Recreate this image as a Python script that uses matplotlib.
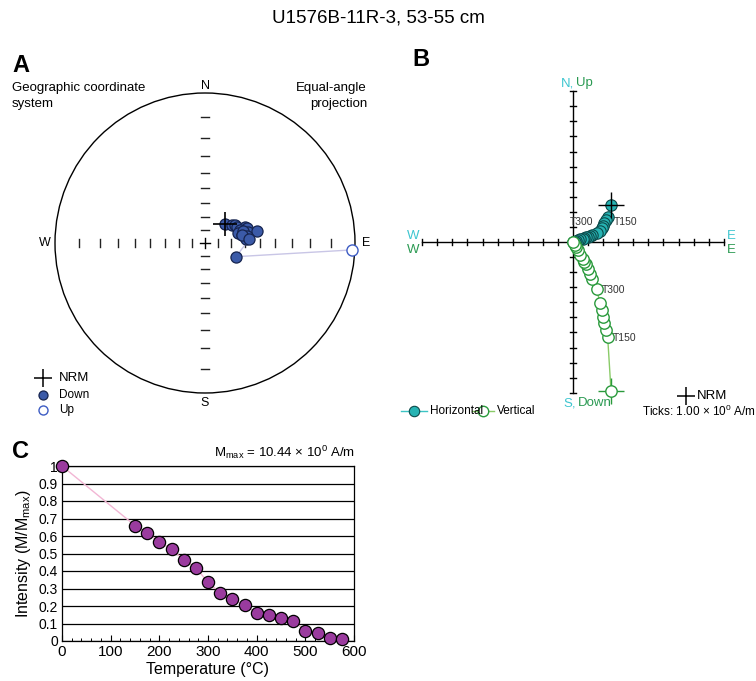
import numpy as np
import matplotlib
matplotlib.use("Agg")
import matplotlib.pyplot as plt
from matplotlib.patches import Circle

plt.rcParams['font.family'] = ['Liberation Sans', 'DejaVu Sans']
plt.rcParams['mathtext.fontset'] = 'custom'
plt.rcParams['mathtext.rm'] = 'Liberation Sans'
plt.rcParams['mathtext.it'] = 'Liberation Sans:italic'
plt.rcParams['mathtext.bf'] = 'Liberation Sans:bold'

# ---------------- data ----------------
title = "U1576B-11R-3, 53-55 cm"
temps = [0, 150, 175, 200, 225, 250, 275, 300, 325, 350, 375, 400, 425, 450, 475, 500, 525, 550, 575]
# Panel A: stereonet directions (declination, inclination in degrees)
dec = [46.5, 56.0, 59.0, 62.8, 67.8, 70.6, 69.6, 73.6, 75.4, 76.9, 73.8, 77.7, 72.0, 80.0, 84.8, 78.0, 85.0, 113.8, 92.7]
inc = [69.1, 65.8, 63.7, 63.3, 57.9, 57.2, 62.1, 60.2, 56.8, 51.0, 64.0, 61.9, 60.0, 58.0, 59.4, 62.0, 57.0, 64.5, -1.2]
# Panel B: Zijderveld components (A/m)
east = [2.52, 2.30, 2.17, 2.08, 1.97, 1.90, 1.79, 1.57, 1.24, 1.13, 0.99, 0.84, 0.76, 0.63, 0.46, 0.31, 0.23, 0.13, 0.03]
north = [2.45, 1.66, 1.46, 1.26, 1.06, 0.90, 0.73, 0.60, 0.46, 0.43, 0.36, 0.30, 0.27, 0.23, 0.17, 0.10, 0.07, 0.03, 0.00]
down = [9.86, 6.33, 5.84, 5.37, 4.97, 4.48, 4.05, 3.14, 2.45, 2.12, 1.79, 1.49, 1.33, 1.13, 0.86, 0.50, 0.36, 0.17, -0.01]
zij_labels = {1: "T150", 7: "T300"}
# Panel C: normalized intensity
intensity = [1.0, 0.66, 0.62, 0.565, 0.525, 0.465, 0.42, 0.335, 0.275, 0.24, 0.205, 0.16, 0.15, 0.13, 0.115, 0.06, 0.045, 0.015, 0.01]
mmax_text = r"$\mathregular{M_{max}}$ = 10.44 × 10$^{\mathregular{0}}$ A/m"
ticks_text = r"Ticks: 1.00 × 10$^{\mathregular{0}}$ A/m"

# ---------------- figure ----------------
W, H = 756, 681
fig = plt.figure(figsize=(W / 100, H / 100), dpi=100)


def px_axes(x0, y0, x1, y1):
    return fig.add_axes([x0 / W, 1 - y1 / H, (x1 - x0) / W, (y1 - y0) / H])


def ftext(x, y, s, **kw):
    kw.setdefault('va', 'center')
    return fig.text(x / W, 1 - y / H, s, **kw)


ftext(378, 18, title, ha='center', fontsize=13.5)

# ---------------- Panel A ----------------
cx, cy, R = 205, 243, 150
a0x, a0y, a1x, a1y = 0, 60, 410, 430
axA = px_axes(a0x, a0y, a1x, a1y)
axA.set_xlim((a0x - cx) / R, (a1x - cx) / R)
axA.set_ylim((cy - a1y) / R, (cy - a0y) / R)
axA.axis('off')
axA.add_patch(Circle((0, 0), 1.0, fill=False, ec='black', lw=1.0))
tick_r = [np.tan(np.radians((90 - i) / 2)) for i in range(10, 90, 10)]
hl = 0.024
for r in tick_r:
    for s in (1, -1):
        axA.plot([-hl, hl], [s * r, s * r], color='#222222', lw=1.0)
        axA.plot([s * r, s * r], [-hl, hl], color='#222222', lw=1.0)
axA.plot([-0.032, 0.032], [0, 0], color='black', lw=1.0)
axA.plot([0, 0], [-0.032, 0.032], color='black', lw=1.0)

d = np.radians(np.array(dec))
ia = np.abs(np.array(inc))
rr = np.tan(np.radians((90 - ia) / 2))
sx = rr * np.sin(d)
sy = rr * np.cos(d)
axA.plot(sx, sy, color='#c9c6e6', lw=1.0, zorder=2)
for k in range(len(dec)):
    if inc[k] >= 0:
        axA.plot(sx[k], sy[k], 'o', ms=8, mfc='#3b5aa8', mec='#16244f', mew=0.9, zorder=3)
    else:
        axA.plot(sx[k], sy[k], 'o', ms=8, mfc='white', mec='#3d5cc4', mew=1.0, zorder=3)
axA.plot(sx[0], sy[0], '+', ms=17, color='black', mew=1.2, zorder=4)

ftext(12, 65, "A", fontsize=17, fontweight='bold')
ftext(12, 88, "Geographic coordinate", fontsize=9.5)
ftext(12, 104, "system", fontsize=9.5)
ftext(367, 88, "Equal-angle", fontsize=9.5, ha='right')
ftext(367, 104, "projection", fontsize=9.5, ha='right')
ftext(205, 86, "N", fontsize=9, ha='center')
ftext(205, 403, "S", fontsize=9, ha='center')
ftext(45, 243, "W", fontsize=9, ha='center')
ftext(366, 243, "E", fontsize=9, ha='center')

# legend A
legA = px_axes(0, 360, 120, 420)
legA.set_xlim(0, 120)
legA.set_ylim(420, 360)
legA.axis('off')
legA.plot(43, 378, '+', ms=13, color='black', mew=1.1)
legA.plot(43, 395, 'o', ms=6.5, mfc='#3b5aa8', mec='#16244f', mew=0.9)
legA.plot(43, 410, 'o', ms=6.5, mfc='white', mec='#3d5cc4', mew=1.0)
ftext(59, 378, "NRM", fontsize=9.5)
ftext(59, 395, "Down", fontsize=8.5)
ftext(59, 410, "Up", fontsize=8.5)

# ---------------- Panel B ----------------
ox, oy, S = 573, 242, 15.08
b0x, b0y, b1x, b1y = 400, 70, 756, 425
axB = px_axes(b0x, b0y, b1x, b1y)
axB.set_xlim((b0x - ox) / S, (b1x - ox) / S)
axB.set_ylim((oy - b1y) / S, (oy - b0y) / S)
axB.axis('off')
axB.plot([-10, 10], [0, 0], color='black', lw=1.0, zorder=1)
axB.plot([0, 0], [-10, 10], color='black', lw=1.0, zorder=1)
for t in range(-10, 11):
    if t == 0:
        continue
    axB.plot([t, t], [-0.17, 0.17], color='black', lw=1.0, zorder=1)
    axB.plot([-0.23, 0.23], [t, t], color='black', lw=1.0, zorder=1)

cyan_txt = '#3ec6d0'
green_txt = '#2a9a52'
h_fill, h_edge, h_line = '#26b3b3', '#0c4a4a', '#3cc4c4'
v_edge, v_line = '#2a9a3c', '#8acb68'

E = np.array(east)
N = np.array(north)
D = np.array(down)
axB.plot(E, N, color=h_line, lw=1.0, zorder=2)
axB.plot(E, N, 'o', ms=8.2, mfc=h_fill, mec=h_edge, mew=0.8, zorder=3)
axB.plot(E, -D, color=v_line, lw=1.0, zorder=2)
axB.plot(E, -D, 'o', ms=8.2, mfc='white', mec=v_edge, mew=1.0, zorder=3)
axB.plot(E[0], N[0], '+', ms=19, color='black', mew=1.0, zorder=4)
axB.plot(E[0], -D[0], '+', ms=19, color=v_edge, mew=1.0, zorder=2)

for k, lab in zij_labels.items():
    if k == 7:
        axB.annotate(lab, (E[k], N[k]), xytext=(-3, 11), textcoords='offset pixels',
                     ha='right', va='center', fontsize=7.5, color='#333333', zorder=5)
    else:
        axB.annotate(lab, (E[k], N[k]), xytext=(6, -5), textcoords='offset pixels',
                     ha='left', va='center', fontsize=7.5, color='#333333', zorder=5)
    axB.annotate(lab, (E[k], -D[k]), xytext=(5, -1), textcoords='offset pixels',
                 ha='left', va='center', fontsize=7.5, color='#333333', zorder=5)

ftext(12 + 400, 60, "B", fontsize=17, fontweight='bold')
ftext(574, 83, "N,", fontsize=9.5, ha='right', color=cyan_txt)
ftext(576, 83, "Up", fontsize=9.5, ha='left', color=green_txt)
ftext(576, 403, "S,", fontsize=9.5, ha='right', color=cyan_txt)
ftext(578, 403, "Down", fontsize=9.5, ha='left', color=green_txt)
ftext(413, 236, "W", fontsize=9.5, ha='center', color=cyan_txt)
ftext(413, 250, "W", fontsize=9.5, ha='center', color=green_txt)
ftext(731, 236, "E", fontsize=9.5, ha='center', color=cyan_txt)
ftext(731, 250, "E", fontsize=9.5, ha='center', color=green_txt)

# legend B
legB = px_axes(395, 385, 756, 420)
legB.set_xlim(395, 756)
legB.set_ylim(420, 385)
legB.axis('off')
legB.plot([401, 427], [411, 411], color=h_line, lw=1.0)
legB.plot(414, 411, 'o', ms=7.5, mfc=h_fill, mec=h_edge, mew=0.8)
ftext(430, 411, "Horizontal", fontsize=8.5)
legB.plot([472, 494], [411, 411], color=v_line, lw=1.0)
legB.plot(483, 411, 'o', ms=7.5, mfc='white', mec=v_edge, mew=1.0)
ftext(497, 411, "Vertical", fontsize=8.5)
legB.plot(686, 396, '+', ms=13, color='black', mew=1.1)
ftext(697, 396, "NRM", fontsize=9.5)
ftext(756, 411, ticks_text, fontsize=8.5, ha='right')

# ---------------- Panel C ----------------
axC = px_axes(62, 466, 354, 641)
axC.set_xlim(0, 600)
axC.set_ylim(0, 1)
yt = np.round(np.arange(0, 1.01, 0.1), 1)
for yv in yt:
    axC.axhline(yv, color='black', lw=0.9, zorder=1)
axC.plot(temps, intensity, color='#f2b6d4', lw=1.0, zorder=2)
axC.plot(temps, intensity, 'o', ms=8.8, mfc='#9a3b9e', mec='black', mew=0.9, zorder=3, clip_on=False)
axC.set_yticks(yt)
axC.set_yticklabels(["0" if v == 0 else ("1" if v == 1 else f"{v:.1f}") for v in yt], fontsize=10)
axC.set_xticks([0, 100, 200, 300, 400, 500, 600])
axC.set_xticklabels(["0", "100", "200", "300", "400", "500", "600"], fontsize=11)
axC.set_xticks(np.arange(0, 601, 20), minor=True)
axC.tick_params(axis='x', which='major', direction='in', length=4, pad=3, width=0.8)
axC.tick_params(axis='x', which='minor', direction='in', length=2.5, width=0.7)
axC.tick_params(axis='y', which='major', length=0, pad=3)
for sp in axC.spines.values():
    sp.set_linewidth(0.9)
axC.set_xlabel("Temperature (°C)", fontsize=11.5, labelpad=2)
axC.set_ylabel(r"Intensity (M/M$_{\mathregular{max}}$)", fontsize=11.5, labelpad=4)
ftext(12, 452, "C", fontsize=17, fontweight='bold')
ftext(355, 452, mmax_text, fontsize=9.5, ha='right')

fig.savefig("out.png", dpi=100)
